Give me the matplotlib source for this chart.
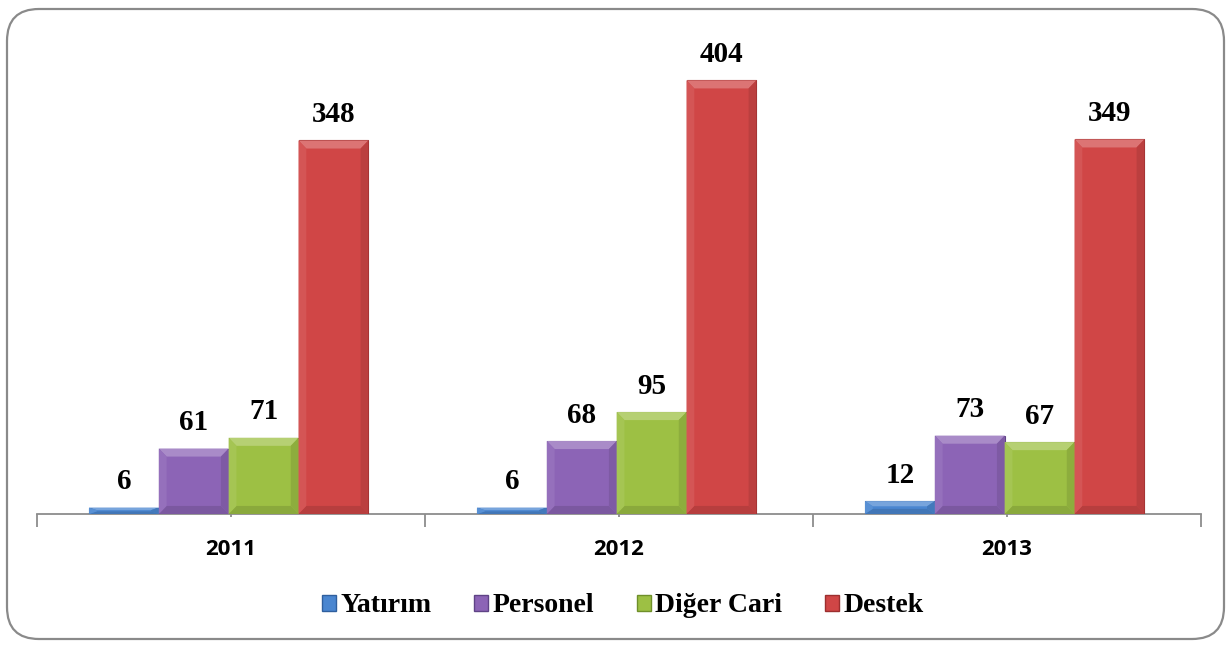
import numpy as np
import matplotlib
matplotlib.use('Agg')
import matplotlib.pyplot as plt
from matplotlib.patches import FancyBboxPatch, Polygon, Patch

years = ['2011', '2012', '2013']
series_names = ['Yatırım', 'Personel', 'Diğer Cari', 'Destek']
yatirim = [6, 6, 12]
personel = [61, 68, 73]
diger_cari = [71, 95, 67]
destek = [348, 404, 349]

colors = ['#4a86d0', '#8c64b6', '#9dc044', '#d04646']
edges = ['#2f5f9e', '#5f4386', '#6f8f2a', '#9c2f2f']


def shade(c, f):
    rgb = np.array(matplotlib.colors.to_rgb(c))
    if f > 0:
        rgb = rgb + (1 - rgb) * f
    else:
        rgb = rgb * (1 + f)
    return tuple(np.clip(rgb, 0, 1))


fig = plt.figure(figsize=(12.31, 6.46), dpi=100)

# rounded frame round the whole chart
frame = FancyBboxPatch((0.07, 0.07), 12.17, 6.30, boxstyle='round,pad=0,rounding_size=0.32',
                       transform=fig.dpi_scale_trans, fc='white', ec='#8a8a8a', lw=1.6,
                       zorder=-10)
fig.patches.append(frame)

ax = fig.add_axes([37 / 1231, (646 - 514) / 646, 1164 / 1231, 483 / 646])
ax.set_facecolor('none')

x = np.arange(len(years))
width = 0.18
all_vals = [yatirim, personel, diger_cari, destek]

for i, vals in enumerate(all_vals):
    bars = ax.bar(x + (i - 1.5) * width - 0.006, vals, width, color=colors[i],
                  edgecolor=edges[i], linewidth=0.8, zorder=3)
    for b, v in zip(bars, vals):
        bx, by, bw, bh = b.get_x(), b.get_y(), b.get_width(), b.get_height()
        dx = 0.02
        dy = min(7.5, bh / 2.5)
        # bevel: lighter top, darker sides and bottom
        ax.add_patch(Polygon([(bx, by + bh), (bx + bw, by + bh), (bx + bw - dx, by + bh - dy),
                              (bx + dx, by + bh - dy)], closed=True, fc=shade(colors[i], 0.25),
                             ec='none', zorder=4))
        ax.add_patch(Polygon([(bx, by), (bx + bw, by), (bx + bw - dx, by + dy),
                              (bx + dx, by + dy)], closed=True, fc=shade(colors[i], -0.12),
                             ec='none', zorder=4))
        ax.add_patch(Polygon([(bx, by), (bx, by + bh), (bx + dx, by + bh - dy),
                              (bx + dx, by + dy)], closed=True, fc=shade(colors[i], 0.08),
                             ec='none', zorder=4))
        ax.add_patch(Polygon([(bx + bw, by), (bx + bw, by + bh), (bx + bw - dx, by + bh - dy),
                              (bx + bw - dx, by + dy)], closed=True, fc=shade(colors[i], -0.1),
                             ec='none', zorder=4))
        ax.annotate(str(v), (bx + bw / 2, bh), xytext=(0, 9), textcoords='offset points',
                    ha='center', va='bottom', fontsize=21, fontweight='bold',
                    family='Liberation Serif', color='black', zorder=5)

ax.set_xlim(-0.5, 2.5)
ax.set_ylim(0, 450)

for s in ['top', 'right', 'left']:
    ax.spines[s].set_visible(False)
ax.spines['bottom'].set_color('#8c8c8c')
ax.spines['bottom'].set_linewidth(1.3)
ax.set_yticks([])

ax.set_xticks(x)
ax.set_xticklabels(years, fontsize=16, fontweight='bold', family='Open Sans')
ax.set_xticks([-0.5, 0.5, 1.5, 2.5], minor=True)
ax.tick_params(axis='x', which='major', length=4, direction='inout', color='#8c8c8c',
               width=1.3, pad=16)
ax.tick_params(axis='x', which='minor', length=9, direction='out', color='#8c8c8c', width=1.3)

handles = [Patch(fc=colors[i], ec=edges[i]) for i in range(4)]
fig.legend(handles, series_names, loc='center', bbox_to_anchor=(0.506, 0.062), ncol=4,
           frameon=False, prop={'family': 'Liberation Serif', 'weight': 'bold', 'size': 20},
           handlelength=0.5, handleheight=0.5, handletextpad=0.15, columnspacing=1.55)

fig.savefig('out.png', dpi=100)
